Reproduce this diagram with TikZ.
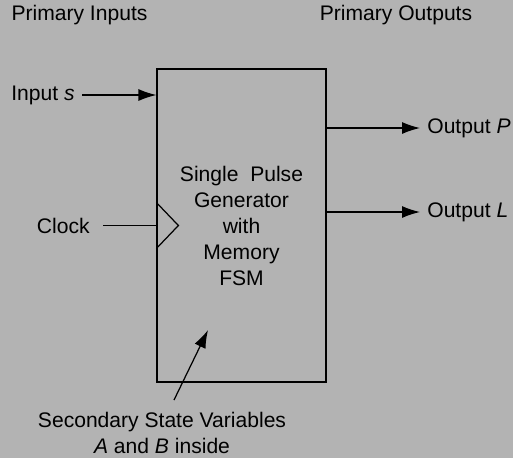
\documentclass[tikz,border=0pt]{standalone}
\usepackage{fontspec}
\setmainfont{Liberation Sans}
\usepackage{tikz}
\usetikzlibrary{arrows.meta,positioning}
\definecolor{bggray}{HTML}{B3B3B3}
\newcommand{\fsmfont}{\fontsize{12}{14.8}\selectfont}
\tikzset{
    fsmbox/.style={rectangle, draw, line width=0.7pt, minimum width=3.38cm, minimum height=6.26cm, align=center, font=\fsmfont},
    lbl/.style={font=\fsmfont, inner xsep=0.14cm, inner ysep=0pt, align=center},
    sig/.style={-{Latex[length=3.6mm, width=2.4mm]}, line width=0.7pt},
    wire/.style={line width=0.7pt},
}

\begin{document}
\begin{tikzpicture}[x=0.02cm, y=-0.02cm]
    \fill[bggray] (0,0) rectangle (513,458);
    \useasboundingbox (0,0) rectangle (513,458);

    \node[fsmbox] (fsm) at (241.5,225.5) {Single\ \ Pulse\\Generator\\with\\Memory\\FSM};

    \node[lbl] (pin) at (79.5,15) {Primary Inputs};
    \node[lbl] (pout) at (396,15) {Primary Outputs};

    \node[lbl, anchor=east] (ins) at (82,95) {Input \textit{s}};
    \node[lbl, anchor=east] (clk) at (97,225.5) {Clock};
    \node[lbl, anchor=west] (outp) at (420,128) {Output \textit{P}};
    \node[lbl, anchor=west] (outl) at (420,212) {Output \textit{L}};
    \node[lbl] (sec) at (162,433) {Secondary State Variables\\\textit{A} and \textit{B} inside};

    \coordinate (svtail) at (174,400);
    \coordinate (svtip) at (208,330);

    \draw[sig] (ins.east) -- (ins.east -| fsm.west);
    \draw[wire, shorten <=0.12cm] (clk.east) -- (fsm.west);
    \draw[wire] ([yshift=0.46cm]fsm.west) -- ++(0.44cm,-0.46cm) -- ++(-0.44cm,-0.46cm);
    \draw[sig] (outp.west -| fsm.east) -- (outp.west);
    \draw[sig] (outl.west -| fsm.east) -- (outl.west);
    \draw[sig] (svtail) -- (svtip);
\end{tikzpicture}
\end{document}
